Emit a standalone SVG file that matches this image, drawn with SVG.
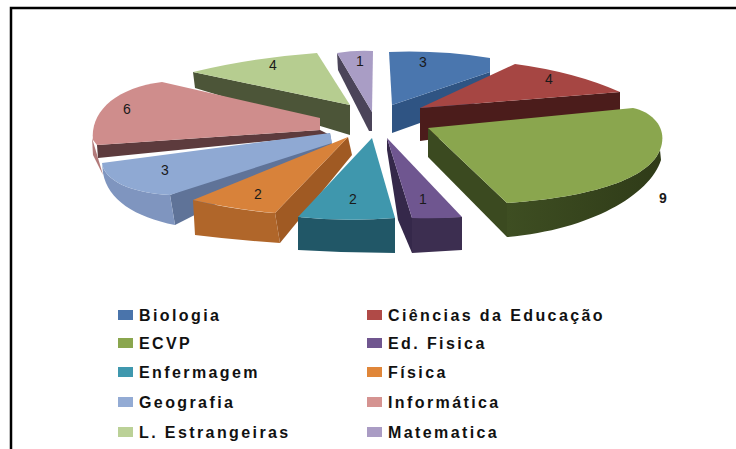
<svg xmlns="http://www.w3.org/2000/svg" width="736" height="449" viewBox="0 0 736 449">
<defs>
<style>
.lbl{font-family:"Liberation Sans",Arial,sans-serif;font-size:14px;fill:#1a1a1a;text-anchor:middle}
.leg{font-family:"Liberation Sans",Arial,sans-serif;font-size:16px;font-weight:bold;fill:#111;letter-spacing:2.4px}
</style>
<linearGradient id="gSide" x1="0" y1="0" x2="1" y2="0">
<stop offset="0" stop-color="#3e4e22"/><stop offset="1" stop-color="#2f3b18"/>
</linearGradient>
</defs>
<rect x="0" y="0" width="736" height="449" fill="#fff"/>
<rect x="11" y="8" width="800" height="500" fill="none" stroke="#000" stroke-width="2.5"/>

<g id="matematica">
<path d="M337,53 L372,112 L372,131 L369,131 L338,70 Z" fill="#4b4459"/>
<path d="M337,53 Q355,50 373,51 L372,112 Z" fill="#a99dc5"/>
<text class="lbl" x="360" y="66">1</text>
</g>
<g id="estrangeiras">
<path d="M193,72 L350,105 L350,135 L195,88 Z" fill="#4c5538"/>
<path d="M193,72 Q250,58 317,53 L350,105 Z" fill="#b6cd90"/>
<text class="lbl" x="273" y="70">4</text>
</g>
<g id="biologia">
<path d="M392,105 L490,72 L490,98 L392,133 Z" fill="#2f5483"/>
<path d="M389,52 Q440,50 490,58 L490,72 L392,105 Z" fill="#4a76ae"/>
<text class="lbl" x="423" y="67">3</text>
</g>
<g id="ciencias">
<path d="M420,108 L620,92 L620,113 L420,141 Z" fill="#4b1c1b"/>
<path d="M420,108 L515,64 Q575,72 620,92 Z" fill="#a64643"/>
<text class="lbl" x="549" y="84">4</text>
</g>
<g id="informatica">
<path d="M92,138 L98,158 L103,175 L93,155 Z" fill="#b27a7a"/>
<path d="M97,145 L320,130 L330,135 L98,158 Z" fill="#5d3b3d"/>
<path d="M93,140 C90,112 115,88 162,82 L320,118 L320,130 L97,145 Z" fill="#cf8d8c"/>
<text class="lbl" x="127" y="114">6</text>
</g>
<g id="geografia">
<path d="M330,133 L332,145 L175,225 L170,195 Z" fill="#5f7398"/>
<path d="M102,163 C104,180 130,193 170,195 L175,225 C135,217 108,200 103,173 Z" fill="#7f95bf"/>
<path d="M102,163 L330,133 L332,143 L170,195 C130,193 104,180 102,163 Z" fill="#8fa9d3"/>
<text class="lbl" x="165" y="175">3</text>
</g>
<g id="ecvp">
<path d="M428,128 L507,203 L507,237 L428,157 Z" fill="#3b4a20"/>
<path d="M507,203 C605,196 650,175 660,150 L661,160 C650,195 590,230 507,237 Z" fill="url(#gSide)"/>
<path d="M428,128 L633,108 C655,113 668,130 660,150 C650,175 605,196 507,203 Z" fill="#8aa64e"/>
<text class="lbl" x="663" y="203" style="font-weight:bold">9</text>
</g>
<g id="fisica">
<path d="M348,137 L352,155 L280,243 L275,213 Z" fill="#a05a23"/>
<path d="M193,200 Q235,210 275,213 L280,243 Q235,240 195,235 Z" fill="#b0662a"/>
<path d="M348,137 L275,213 Q232,209 193,200 Z" fill="#d8823a"/>
<text class="lbl" x="258" y="199">2</text>
</g>
<g id="enfermagem">
<path d="M298,217 Q346,222 395,218 L395,253 Q346,253 298,250 Z" fill="#215767"/>
<path d="M372,138 L395,218 Q346,222 298,217 Z" fill="#3f97ad"/>
<text class="lbl" x="353" y="204">2</text>
</g>
<g id="edfisica">
<path d="M387,138 L412,218 L412,253 L398,220 L387,150 Z" fill="#35284a"/>
<path d="M412,218 L462,217 L462,250 L412,253 Z" fill="#3c2e50"/>
<path d="M387,138 L462,217 Q437,219 412,218 Z" fill="#6f5690"/>
<text class="lbl" x="423" y="204">1</text>
</g>

<g id="legend">
<g id="leg-biologia"><rect x="118" y="310" width="15" height="10" fill="#4a74ab"/><text class="leg" x="139" y="321">Biologia</text></g>
<g id="leg-ciencias"><rect x="367" y="310" width="15" height="10" fill="#b04a47"/><text class="leg" x="388" y="321">Ciências da Educação</text></g>
<g id="leg-ecvp"><rect x="118" y="338" width="15" height="10" fill="#8aa64e"/><text class="leg" x="139" y="349">ECVP</text></g>
<g id="leg-edfisica"><rect x="367" y="338" width="15" height="10" fill="#70568f"/><text class="leg" x="388" y="349">Ed. Fisica</text></g>
<g id="leg-enfermagem"><rect x="118" y="367" width="15" height="10" fill="#3f98ae"/><text class="leg" x="139" y="378">Enfermagem</text></g>
<g id="leg-fisica"><rect x="367" y="367" width="15" height="10" fill="#e08639"/><text class="leg" x="388" y="378">Física</text></g>
<g id="leg-geografia"><rect x="118" y="397" width="15" height="10" fill="#93abd4"/><text class="leg" x="139" y="408">Geografia</text></g>
<g id="leg-informatica"><rect x="367" y="397" width="15" height="10" fill="#d59391"/><text class="leg" x="388" y="408">Informática</text></g>
<g id="leg-estrangeiras"><rect x="118" y="427" width="15" height="10" fill="#bbd197"/><text class="leg" x="139" y="438">L. Estrangeiras</text></g>
<g id="leg-matematica"><rect x="367" y="427" width="15" height="10" fill="#aa9cc4"/><text class="leg" x="388" y="438">Matematica</text></g>
</g>
</svg>
